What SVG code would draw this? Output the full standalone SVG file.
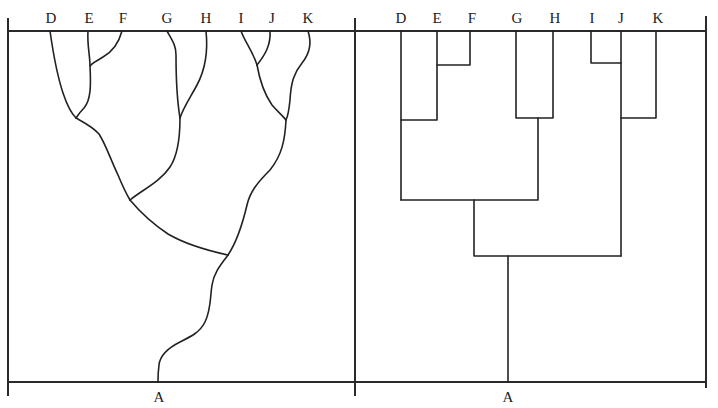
<svg xmlns="http://www.w3.org/2000/svg" width="718" height="408" viewBox="0 0 718 408">
<style>
.frame{stroke:#2a2a2a;stroke-width:2;fill:none}
.br{stroke:#222;stroke-width:1.6;fill:none;stroke-linecap:round;stroke-linejoin:round}
.lb{font-family:"Liberation Serif",serif;font-size:15px;fill:#222;text-anchor:middle}
</style>
<rect width="718" height="408" fill="#fff"/>
<g id="frame">
<line class="frame" x1="8" y1="31" x2="706" y2="31"/>
<line class="frame" x1="8" y1="382" x2="706" y2="382"/>
<line class="frame" x1="8" y1="18" x2="8" y2="396"/>
<line class="frame" x1="355" y1="18" x2="355" y2="396"/>
<line class="frame" x1="706" y1="16" x2="706" y2="388"/>
</g>
<g id="labels-left">
<g id="L-D"><text class="lb" x="51" y="23">D</text></g>
<g id="L-E"><text class="lb" x="89" y="23">E</text></g>
<g id="L-F"><text class="lb" x="123" y="23">F</text></g>
<g id="L-G"><text class="lb" x="167" y="23">G</text></g>
<g id="L-H"><text class="lb" x="206" y="23">H</text></g>
<g id="L-I"><text class="lb" x="241" y="23">I</text></g>
<g id="L-J"><text class="lb" x="272" y="23">J</text></g>
<g id="L-K"><text class="lb" x="308" y="23">K</text></g>
<g id="L-A"><text class="lb" x="159" y="402">A</text></g>
</g>
<g id="labels-right">
<g id="R-D"><text class="lb" x="401" y="23">D</text></g>
<g id="R-E"><text class="lb" x="437" y="23">E</text></g>
<g id="R-F"><text class="lb" x="472" y="23">F</text></g>
<g id="R-G"><text class="lb" x="517" y="23">G</text></g>
<g id="R-H"><text class="lb" x="555" y="23">H</text></g>
<g id="R-I"><text class="lb" x="592" y="23">I</text></g>
<g id="R-J"><text class="lb" x="621" y="23">J</text></g>
<g id="R-K"><text class="lb" x="658" y="23">K</text></g>
<g id="R-A"><text class="lb" x="508" y="402">A</text></g>
</g>
<g id="connectors">
<g id="left-tree">
<path class="br" d="M50,31 C52,45 57,75 63,93 C67,105 71,113 76,118"/>
<path class="br" d="M88,31 C87,45 90,55 90,66 C91,85 91,100 84,108 C80,112 78,115 76,118"/>
<path class="br" d="M122,31 C119,42 112,52 103,57 C97,61 92,63 90,66"/>
<path class="br" d="M76,118 C85,123 93,127 99,134 C106,145 110,158 118,175 C123,187 127,195 130,200"/>
<path class="br" d="M167,31 C172,40 176,45 176,55 C176,75 177,100 180,118"/>
<path class="br" d="M206,31 C208,50 205,70 197,85 C190,98 183,108 180,118"/>
<path class="br" d="M180,118 C180,135 178,155 170,167 C160,182 142,190 130,200"/>
<path class="br" d="M130,200 C140,212 150,222 168,234 C185,244 205,250 228,255"/>
<path class="br" d="M241,31 C245,42 253,52 257,65"/>
<path class="br" d="M270,31 C271,45 265,55 257,65"/>
<path class="br" d="M257,65 C260,82 265,95 272,105 C278,112 283,116 286,120"/>
<path class="br" d="M308,31 C311,40 311,52 302,63 C294,73 291,82 290,100 C289,110 288,116 286,120"/>
<path class="br" d="M286,120 C285,140 282,155 270,170 C257,183 250,192 247,205 C243,222 238,240 228,255"/>
<path class="br" d="M228,255 C222,263 214,272 212,285 C210,298 211,310 205,322 C200,332 192,336 180,342 C168,348 160,355 159,365 C158,372 158,378 158,382"/>
</g>
<g id="right-tree">
<path class="br" d="M401,31 V200"/>
<path class="br" d="M437,31 V120 H401"/>
<path class="br" d="M470,31 V65 H437"/>
<path class="br" d="M516,31 V118 H553 V31"/>
<path class="br" d="M538,118 V200 H401"/>
<path class="br" d="M591,31 V63 H621"/>
<path class="br" d="M621,31 V256"/>
<path class="br" d="M656,31 V118 H621"/>
<path class="br" d="M474,200 V256 H621"/>
<path class="br" d="M508,256 V382"/>
</g>
</g>
</svg>
